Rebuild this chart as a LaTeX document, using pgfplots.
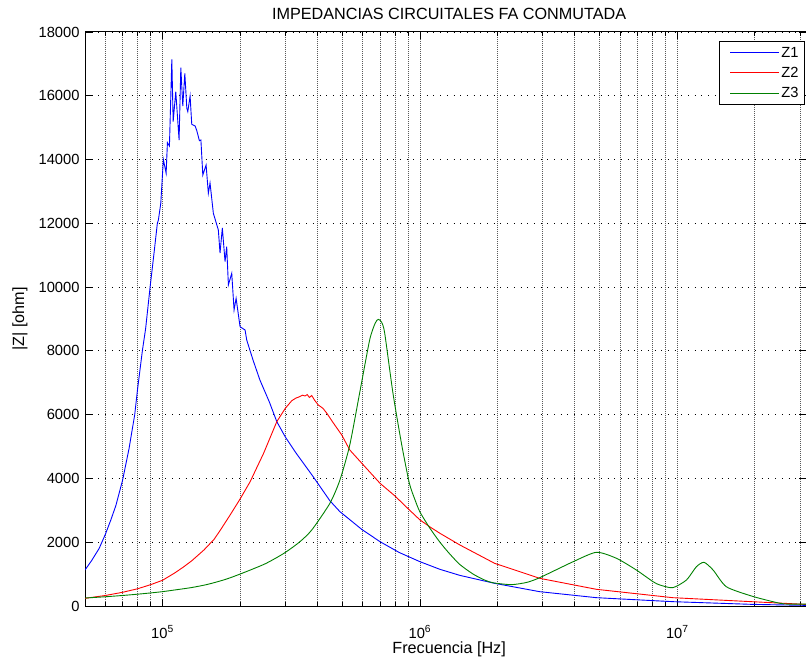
\documentclass[border=0pt]{standalone}
\usepackage{fontspec}
\setmainfont{Liberation Sans}
\usepackage{pgfplots}
\pgfplotsset{compat=1.18}
\definecolor{mgreen}{rgb}{0,0.5,0}
\pgfplotsset{
 legend image code/.code={\path (0bp,0bp) -- (0bp,0bp); \draw[#1, line width=0.9bp] (6bp,0bp) -- (55bp,0bp);},
}
\begin{document}
\begin{tikzpicture}
\begin{axis}[
 scale only axis, width=721bp, height=574bp,
 xmode=log, xmin=5e4, xmax=3.1623e7, ymin=0, ymax=18000,
 ytick={0,2000,...,18000}, scaled y ticks=false,
 xtick={1e5,1e6,1e7},
 xticklabels={10\textsuperscript{5},10\textsuperscript{6},10\textsuperscript{7}},
 minor xtick={6e4,7e4,8e4,9e4,2e5,3e5,4e5,5e5,6e5,7e5,8e5,9e5,2e6,3e6,4e6,5e6,6e6,7e6,8e6,9e6,2e7,3e7},
 xmajorgrids, xminorgrids, ymajorgrids,
 x grid style={black!65, line width=0.8bp, dash pattern=on 1bp off 1bp},
 minor x grid style={black!65, line width=0.8bp, dash pattern=on 1bp off 1bp},
 y grid style={black, line width=0.8bp, dash pattern=on 1bp off 5.7bp},
 tick align=inside, major tick length=7bp, minor tick length=4bp,
 every tick/.style={black, line width=0.8bp},
 axis line style={line width=1bp},
 /pgf/number format/assume math mode=true, /pgf/number format/1000 sep={},
 ticklabel style={font=\fontsize{14.7bp}{16bp}\selectfont},
 yticklabel style={xshift=-2bp},
 xticklabel style={anchor=base, yshift=-32bp},
 label style={font=\fontsize{16.2bp}{18bp}\selectfont},
 title style={font=\fontsize{16.2bp}{18bp}\selectfont, at={(axis description cs:0.505,1)}, anchor=base, yshift=6.2bp},
 title={IMPEDANCIAS CIRCUITALES FA CONMUTADA},
 xlabel={Frecuencia [Hz]},
 xlabel style={at={(axis description cs:0.505,0)}, anchor=base, yshift=-47bp},
 ylabel={|Z| [ohm]},
 ylabel style={at={(axis description cs:-0.0846,0.5)}, anchor=base},
 legend style={at={(rel axis cs:1,1)}, anchor=north east, xshift=-1bp, yshift=-9bp,
   font=\fontsize{14.7bp}{16bp}\selectfont, draw=black, line width=0.8bp,
   inner xsep=4bp, inner ysep=3.5bp, row sep=4.5bp, cells={anchor=west}},
]
\coordinate (sw) at (rel axis cs:0,0);
\coordinate (ne) at (rel axis cs:1,1);
\addplot[blue, line width=0.9bp] coordinates {
(5.0e4,1130) (5.3e4,1420) (5.67e4,1800) (6.0e4,2250) (6.3e4,2700) (6.59e4,3150)
(7.0e4,3950) (7.42e4,4950) (7.8e4,6000) (8.0e4,6800) (8.36e4,8028) (8.6e4,8700)
(8.95e4,10000) (9.25e4,11000) (9.55e4,12000) (9.64e4,12105) (9.85e4,12638)
(1.0e5,13548) (1.008e5,14000) (1.033e5,13570) (1.045e5,14530) (1.064e5,14425)
(1.087e5,17144) (1.1e5,15188) (1.126e5,16129) (1.16e5,14613) (1.178e5,16883)
(1.199e5,15680) (1.221e5,16705) (1.243e5,15608) (1.254e5,15503) (1.28e5,15994)
(1.299e5,15106) (1.339e5,15053) (1.359e5,14906) (1.391e5,14592) (1.41e5,14613)
(1.434e5,13516) (1.477e5,13830) (1.507e5,12942) (1.53e5,13265) (1.576e5,12315)
(1.648e5,11791) (1.673e5,11070) (1.708e5,11854) (1.75e5,10797) (1.776e5,11268)
(1.803e5,10067) (1.858e5,10433) (1.897e5,9283) (1.932e5,9649) (2.001e5,8759)
(2.093e5,8655) (2.124e5,8342) (2.25e5,7700) (2.39e5,7087) (2.6e5,6400)
(2.78e5,5781) (3.0e5,5300) (3.3e5,4800) (3.85e5,4055) (4.47e5,3300) (4.89e5,2958)
(5.95e5,2400) (7.0e5,2017) (8.3e5,1680) (1.0e6,1390) (1.196e6,1150) (1.43e6,960)
(1.95e6,711) (2.92e6,449) (4.85e6,261) (9.6e6,136) (1.94e7,52) (3.16e7,20)
};
\addlegendentry{Z1}
\addplot[red, line width=0.9bp] coordinates {
(5e4,240) (6e4,330) (7e4,430) (8e4,540) (9e4,670) (1e5,806) (1.11e5,1025)
(1.2e5,1210) (1.3e5,1420) (1.45e5,1760) (1.59e5,2100) (1.7e5,2450) (1.83e5,2850)
(2.0e5,3350) (2.19e5,3898) (2.47e5,4788)
(2.78e5,5781) (3.0e5,6200) (3.18e5,6439) (3.3e5,6520) (3.4e5,6560) (3.5e5,6610)
(3.58e5,6586) (3.65e5,6630) (3.72e5,6540) (3.8e5,6600) (3.9e5,6450) (4.03e5,6303)
(4.2e5,6200) (4.35e5,6043) (4.6e5,5750) (4.97e5,5363) (5.34e5,4892) (6.03e5,4422)
(7.0e5,3848) (8.0e5,3450) (9.0e5,3050) (1.0e6,2700) (1.094e6,2480) (1.196e6,2280) (1.43e6,1913)
(1.95e6,1339) (2.92e6,868) (4.85e6,523) (9.6e6,261) (1.94e7,136) (3.16e7,50)
};
\addlegendentry{Z2}
\addplot[mgreen, line width=0.9bp, smooth, tension=0.4] coordinates {
(5e4,250) (6e4,290) (7e4,330) (8e4,370) (9e4,410) (1e5,450) (1.11e5,500)
(1.3e5,580) (1.5e5,680) (1.75e5,830) (2e5,1000) (2.5e5,1320) (2.96e5,1650)
(3.4e5,2000) (3.8e5,2383) (4.47e5,3220) (4.89e5,3951) (5.34e5,5050) (5.83e5,6670)
(6.38e5,8342) (6.7e5,8866) (6.89e5,8991) (7.1e5,8900) (7.3e5,8552) (7.86e5,6670)
(8.5e5,5050) (9.1e5,3850) (9.55e5,3350) (1.0e6,2950) (1.094e6,2437) (1.196e6,2000) (1.3e6,1650)
(1.43e6,1300) (1.61e6,1000) (1.8e6,800) (1.95e6,720) (2.27e6,670) (2.6e6,740)
(2.92e6,888) (3.94e6,1390) (4.85e6,1684)
(5.8e6,1496) (6.93e6,1129) (8.05e6,762) (8.55e6,659) (9.6e6,574) (1.085e7,815)
(1.186e7,1232) (1.27e7,1370) (1.377e7,1129) (1.55e7,605) (1.94e7,314) (2.35e7,136)
(2.62e7,63) (3.16e7,60)
};
\addlegendentry{Z3}
\end{axis}
\pgfresetboundingbox
\path ([xshift=-85bp,yshift=-54bp]sw) rectangle ([yshift=32bp]ne);
\end{tikzpicture}
\end{document}
